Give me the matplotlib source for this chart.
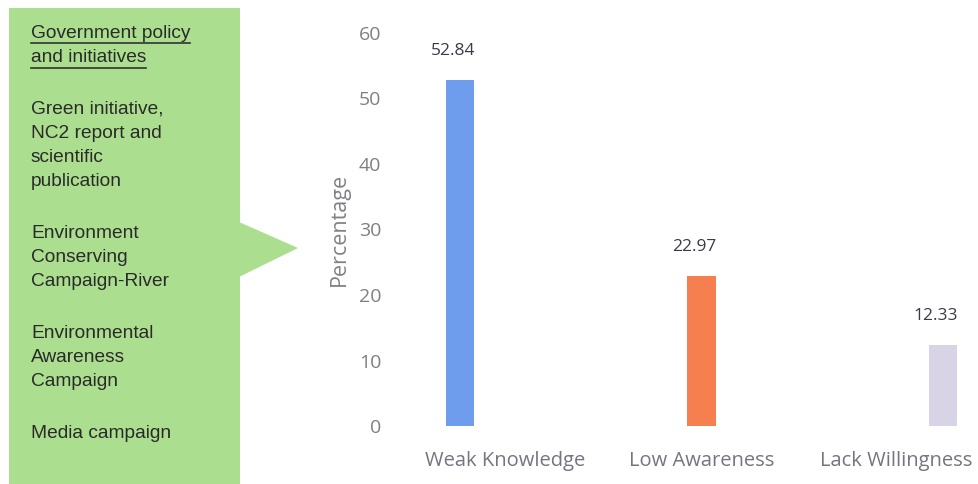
import matplotlib.pyplot as plt
from matplotlib.patches import Polygon, Rectangle

categories = ['Weak Knowledge', 'Low Awareness', 'Lack Willingness']
values = [52.84, 22.97, 12.33]
bar_colors = ['#6f9ded', '#f57f4e', '#d8d3e5']
yticks = [0, 10, 20, 30, 40, 50, 60]

box_lines = [
    ['Government policy', 'and initiatives'],
    ['Green initiative,', 'NC2 report and', 'scientific', 'publication'],
    ['Environment', 'Conserving', 'Campaign-River'],
    ['Environmental', 'Awareness', 'Campaign'],
    ['Media campaign'],
]

W, H = 979, 484
fig = plt.figure(figsize=(W / 100, H / 100), dpi=100)

# left green callout box, drawn in pixel coordinates
over = fig.add_axes([0, 0, 1, 1])
over.set_xlim(0, W)
over.set_ylim(H, 0)
over.axis('off')
green = '#abdf8f'
over.add_patch(Rectangle((9, 8), 231, 480, color=green, lw=0))
over.add_patch(Polygon([(239, 222), (298, 248), (239, 277)], closed=True,
                       color=green, lw=0))

y = 33
for gi, group in enumerate(box_lines):
    for line in group:
        t = over.text(31, y, line, fontsize=13.8, family='Liberation Sans',
                      color='#2a2a2a', va='center', ha='left')
        if gi == 0:
            fig.canvas.draw()
            bb = t.get_window_extent()
            over.plot([31, 31 + bb.width], [y + 10, y + 10], color='#333333', lw=1.2)
        y += 24.5
    y += 26.5

# bar chart
ax = fig.add_axes([395 / W, 58 / H, 1 - 395 / W, (426 - 33) / H])
x = range(len(categories))
ax.bar(x, values, width=0.118, color=bar_colors)
for xi, v in zip(x, values):
    ax.text(xi - 0.03, v + 3.2, f'{v:.2f}', ha='center', va='bottom',
            fontsize=12.5, family='Open Sans', color='#3a3a48')
ax.set_xlim(-0.27, 2.15)
ax.set_ylim(0, 60)
ax.set_yticks(yticks)
ax.set_yticklabels([str(t) for t in yticks], family='Open Sans', fontsize=14,
                   color='#808080')
ax.set_xticks([0.186, 1.0, 1.806])
ax.set_xticklabels(categories, family='Open Sans', fontsize=14.5, color='#777380')
ax.tick_params(length=0, pad=10)
ax.tick_params(axis='x', pad=18)
ax.set_ylabel('Percentage', family='Open Sans', fontsize=15.5, color='#808088',
              labelpad=6)
for s in ax.spines.values():
    s.set_visible(False)
ax.patch.set_alpha(0)

fig.savefig('out.png', dpi=100)
